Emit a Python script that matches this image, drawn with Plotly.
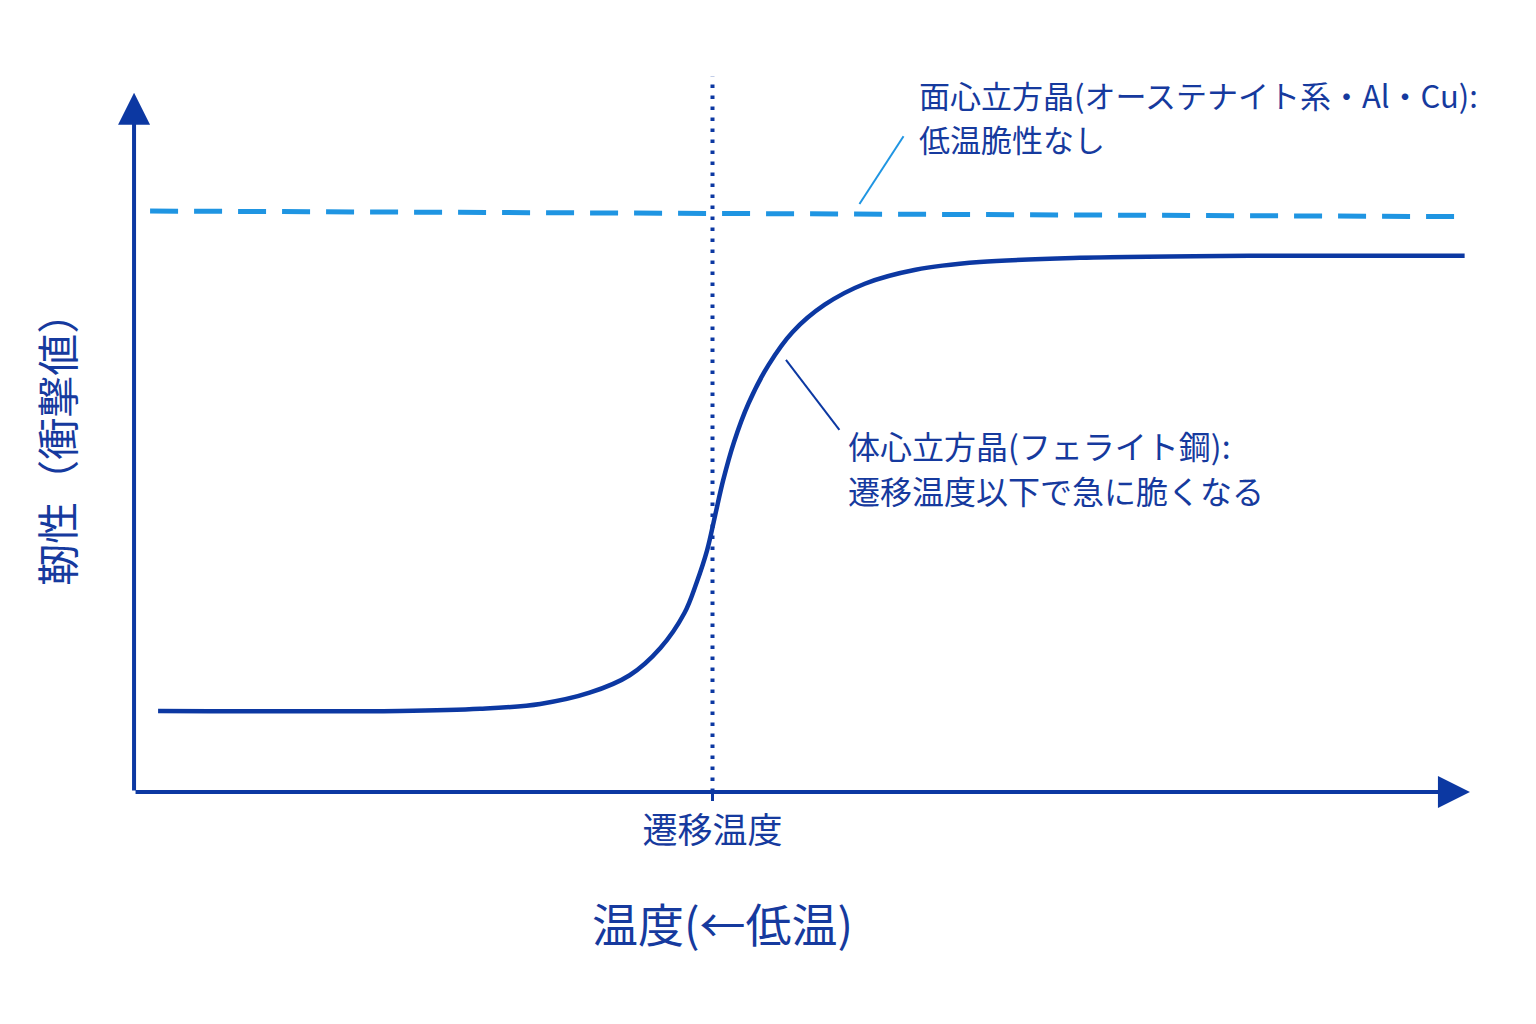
import plotly.graph_objects as go

# 読み取り値（x: 温度の相対値 0-100、y: 靭性の相対値 0-100）
bcc_x = [1.8, 19.9, 25.9, 30.4, 34.1, 37.1, 39.4, 41.2, 42.1, 42.9, 43.5, 44.1,
         44.9, 46.0, 47.5, 49.3, 51.7, 54.7, 58.5, 63.3, 70.8, 83.5, 99.6]
bcc_y = [11.6, 11.6, 11.9, 12.6, 14.2, 16.7, 20.6, 25.6, 29.9, 34.6, 39.6, 44.6,
         50.0, 55.6, 61.1, 65.8, 69.7, 72.7, 74.7, 75.8, 76.4, 76.7, 76.7]

fcc_x = [1.2, 98.9]
fcc_y = [83.1, 82.3]

t_trans = 43.3
trans_y = [0, 102.3]

tick_vals = [t_trans]
tick_text = ["遷移温度"]

fcc_label = ["面心立方晶(オーステナイト系・Al・Cu):", "低温脆性なし"]
bcc_label = ["体心立方晶(フェライト鋼):", "遷移温度以下で急に脆くなる"]
x_title = "温度(←低温)"
y_title = "靭性（衝撃値）"

FONT = "Noto Sans CJK JP"
DARK = "#0c38a2"
TEXT = "#163a9e"
LIGHT = "#1f95e2"

fig = go.Figure()

# 遷移温度の点線
fig.add_trace(go.Scatter(x=[t_trans, t_trans], y=trans_y, mode="lines",
                         line=dict(color=DARK, width=4, dash="3.5px,7.5px"),
                         cliponaxis=False, hoverinfo="skip"))

# 面心立方晶
fig.add_trace(go.Scatter(x=fcc_x, y=fcc_y, mode="lines",
                         line=dict(color=LIGHT, width=5, dash="28px,16px"),
                         hoverinfo="skip"))

# 体心立方晶
fig.add_trace(go.Scatter(x=bcc_x, y=bcc_y, mode="lines",
                         line=dict(color=DARK, width=4.5, shape="spline", smoothing=1.0),
                         hoverinfo="skip"))

# 引出線
fig.add_shape(type="line", x0=54.3, y0=84.1, x1=57.6, y1=93.8,
              line=dict(color=LIGHT, width=2))
fig.add_shape(type="line", x0=48.8, y0=61.8, x1=52.8, y1=51.8,
              line=dict(color=DARK, width=2))

# 軸の矢印
for (x0, y0, x1, y1) in [(0, 0, 0, 100), (0, 0, 100, 0)]:
    fig.add_annotation(x=x1, y=y1, ax=x0, ay=y0, xref="x", yref="y", axref="x", ayref="y",
                       text="", showarrow=True, arrowhead=2, arrowsize=1.6,
                       arrowwidth=4, arrowcolor=DARK)

# ラベル
for txt, yy in zip(fcc_label, [99.8, 93.5]):
    fig.add_annotation(x=58.6, y=yy, text=txt, showarrow=False, xanchor="left",
                       yanchor="middle", font=dict(family=FONT, size=31, color=TEXT))
for txt, yy in zip(bcc_label, [49.7, 43.2]):
    fig.add_annotation(x=53.3, y=yy, text=txt, showarrow=False, xanchor="left",
                       yanchor="middle", font=dict(family=FONT, size=32, color=TEXT))

fig.add_annotation(x=0.4435, y=-0.226, xref="paper", yref="paper", text=x_title,
                   showarrow=False, font=dict(family=FONT, size=46, color=TEXT))
fig.add_annotation(x=-0.063, y=0.482, xref="paper", yref="paper", text=y_title,
                   showarrow=False, textangle=-90,
                   font=dict(family=FONT, size=42, color=TEXT))

fig.update_xaxes(range=[-1.8, 101.5], showgrid=False, zeroline=False, showline=False,
                 tickvals=tick_vals, ticktext=tick_text, ticks="outside", ticklen=8,
                 tickwidth=3, tickcolor=DARK, ticklabelstandoff=0,
                 tickfont=dict(family=FONT, size=35, color=TEXT))
fig.update_yaxes(range=[0, 104.7], showgrid=False, zeroline=False, showline=False,
                 showticklabels=False)

# ページの余白 8px を差し引いた位置
fig.update_layout(width=1536, height=1024, showlegend=False,
                  margin=dict(l=102, r=54, t=52, b=240),
                  plot_bgcolor="white", paper_bgcolor="white")

fig.write_html("out.html")
